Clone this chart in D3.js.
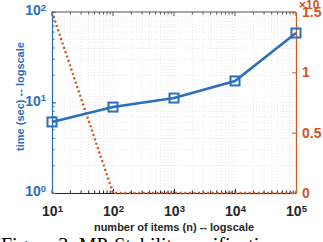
<!DOCTYPE html>
<html>
<head>
<meta charset="utf-8">
<script src="https://cdn.jsdelivr.net/npm/d3@7"></script>
<style>
  body { margin: 0; background: #fff; overflow: hidden; }
  svg { display: block; font-family: Arial, "Liberation Sans", sans-serif; }
</style>
</head>
<body>
<div id="chart"></div>
<script>
// values
const nItems = [1e1, 1e2, 1e3, 1e4, 1e5];
const timeSec = [6.1, 8.9, 11.2, 17.3, 58.6];
const rightSeries = [1.5, 0, 0, 0, 0];
const xTickExps = [1, 2, 3, 4, 5];
const yTickExps = [0, 1, 2];
const rightTicks = [0, 0.5, 1, 1.5];

const width = 323, height = 242;
const margin = { top: 12, right: 27, bottom: 49, left: 52 };
const blue = "#2a6ebd";
const orange = "#d2561e";
const dark = "#262626";

const svg = d3.select("#chart").append("svg")
    .attr("width", width)
    .attr("height", height);

const x = d3.scaleLog().domain([1e1, 1e5]).range([margin.left, width - margin.right]);
const y = d3.scaleLog().domain([1, 100]).range([height - margin.bottom, margin.top]);
const yR = d3.scaleLinear().domain([0, 1.5]).range([height - margin.bottom, margin.top]);

// minor ticks for log axes
const minorX = [];
for (let e = 1; e < 5; e++) for (let k = 1; k <= 9; k++) minorX.push(k * Math.pow(10, e));
minorX.push(1e5);
const minorY = [];
for (let e = 0; e < 2; e++) for (let k = 1; k <= 9; k++) minorY.push(k * Math.pow(10, e));
minorY.push(100);

// grid
const grid = svg.append("g").attr("stroke", "#dedede").attr("stroke-width", 0.7)
    .attr("stroke-dasharray", "1,2");
grid.selectAll(".gx").data(minorX).join("line")
    .attr("x1", d => x(d)).attr("x2", d => x(d))
    .attr("y1", margin.top).attr("y2", height - margin.bottom);
grid.selectAll(".gy").data(minorY).join("line")
    .attr("y1", d => y(d)).attr("y2", d => y(d))
    .attr("x1", margin.left).attr("x2", width - margin.right);

// top axis line
svg.append("line")
    .attr("x1", margin.left).attr("x2", width - margin.right)
    .attr("y1", margin.top).attr("y2", margin.top)
    .attr("stroke", "#8a8a8a").attr("stroke-width", 1.5);
svg.append("g").attr("stroke", "#555").selectAll("line").data(minorX).join("line")
    .attr("x1", d => x(d)).attr("x2", d => x(d))
    .attr("y1", margin.top).attr("y2", d => margin.top + (xTickExps.includes(Math.log10(d)) ? 4 : 2.5));

function supLabel(sel, base, exp) {
    sel.text(null);
    sel.append("tspan").text(base);
    sel.append("tspan").attr("dy", "-0.5em").attr("font-size", "9.5px").text(exp);
}

// bottom axis
const xAxis = svg.append("g")
    .attr("transform", `translate(0,${height - margin.bottom})`)
    .call(d3.axisBottom(x).tickValues(xTickExps.map(e => Math.pow(10, e)))
        .tickSize(-4).tickSizeOuter(0).tickPadding(10).tickFormat(""));
xAxis.select(".domain").attr("stroke", dark).attr("stroke-width", 1.2);
xAxis.selectAll(".tick line").attr("stroke", dark);
xAxis.selectAll(".tick text")
    .attr("fill", dark).attr("font-size", "14px").attr("font-weight", "bold")
    .attr("dy", "0.95em")
    .each(function (d) { supLabel(d3.select(this), "10", Math.round(Math.log10(d))); });
svg.append("g").attr("stroke", dark).selectAll("line").data(minorX).join("line")
    .attr("x1", d => x(d)).attr("x2", d => x(d))
    .attr("y1", height - margin.bottom).attr("y2", height - margin.bottom - 2.5);

// left axis
const yAxis = svg.append("g")
    .attr("transform", `translate(${margin.left},0)`)
    .call(d3.axisLeft(y).tickValues(yTickExps.map(e => Math.pow(10, e)))
        .tickSize(-4).tickSizeOuter(0).tickPadding(6).tickFormat(""));
yAxis.select(".domain").attr("stroke", blue).attr("stroke-width", 1.2);
yAxis.selectAll(".tick line").attr("stroke", blue);
yAxis.selectAll(".tick text")
    .attr("fill", blue).attr("font-size", "14px").attr("font-weight", "bold")
    .attr("dy", "0.2em")
    .each(function (d) { supLabel(d3.select(this), "10", Math.round(Math.log10(d))); });
svg.append("g").attr("stroke", blue).selectAll("line").data(minorY).join("line")
    .attr("y1", d => y(d)).attr("y2", d => y(d))
    .attr("x1", margin.left).attr("x2", margin.left + 2.5);

// right axis
const yRAxis = svg.append("g")
    .attr("transform", `translate(${width - margin.right},0)`)
    .call(d3.axisRight(yR).tickValues(rightTicks)
        .tickSize(-4).tickSizeOuter(0).tickPadding(6).tickFormat(d3.format("")));
yRAxis.select(".domain").attr("stroke", orange).attr("stroke-width", 1.2);
yRAxis.selectAll(".tick line").attr("stroke", orange);
yRAxis.selectAll(".tick text")
    .attr("fill", orange).attr("font-size", "14px").attr("font-weight", "bold")
    .attr("font-family", "Arial, 'Liberation Sans', sans-serif");

// exponent label of the right axis (runs off the right edge, as in the figure)
svg.append("text")
    .attr("x", 299).attr("y", 9)
    .attr("fill", orange).attr("font-size", "12px").attr("font-weight", "bold")
    .text("\u00d710");

// orange dotted series (right axis)
svg.append("path")
    .datum(nItems.map((n, i) => [n, rightSeries[i]]))
    .attr("fill", "none")
    .attr("stroke", orange)
    .attr("stroke-width", 2.4)
    .attr("stroke-dasharray", "2,2.6")
    .attr("d", d3.line().x(d => x(d[0])).y(d => yR(d[1])));

// blue series (left axis)
const pts = nItems.map((n, i) => [n, timeSec[i]]);
svg.append("path")
    .datum(pts)
    .attr("fill", "none")
    .attr("stroke", blue)
    .attr("stroke-width", 2.6)
    .attr("d", d3.line().x(d => x(d[0])).y(d => y(d[1])));
svg.append("g").selectAll("rect").data(pts).join("rect")
    .attr("x", d => x(d[0]) - 4.5).attr("y", d => y(d[1]) - 4.5)
    .attr("width", 9).attr("height", 9)
    .attr("fill", "none").attr("stroke", blue).attr("stroke-width", 2);

// axis titles
svg.append("text")
    .attr("x", (margin.left + width - margin.right) / 2).attr("y", 231)
    .attr("text-anchor", "middle")
    .attr("fill", dark).attr("font-size", "11px").attr("font-weight", "bold")
    .text("number of items (n) -- logscale");
svg.append("text")
    .attr("transform", `translate(24,${(margin.top + height - margin.bottom) / 2 - 6}) rotate(-90)`)
    .attr("text-anchor", "middle")
    .attr("fill", blue).attr("font-size", "11px").attr("font-weight", "bold")
    .text("time (sec) -- logscale");

// caption, cut by the bottom edge
svg.append("text")
    .attr("x", 1).attr("y", 252)
    .attr("fill", "#000").attr("font-size", "20px")
    .attr("font-family", "'Liberation Serif', 'Times New Roman', serif")
    .text("Figure 3: MP-Stability verification");
</script>
</body>
</html>
